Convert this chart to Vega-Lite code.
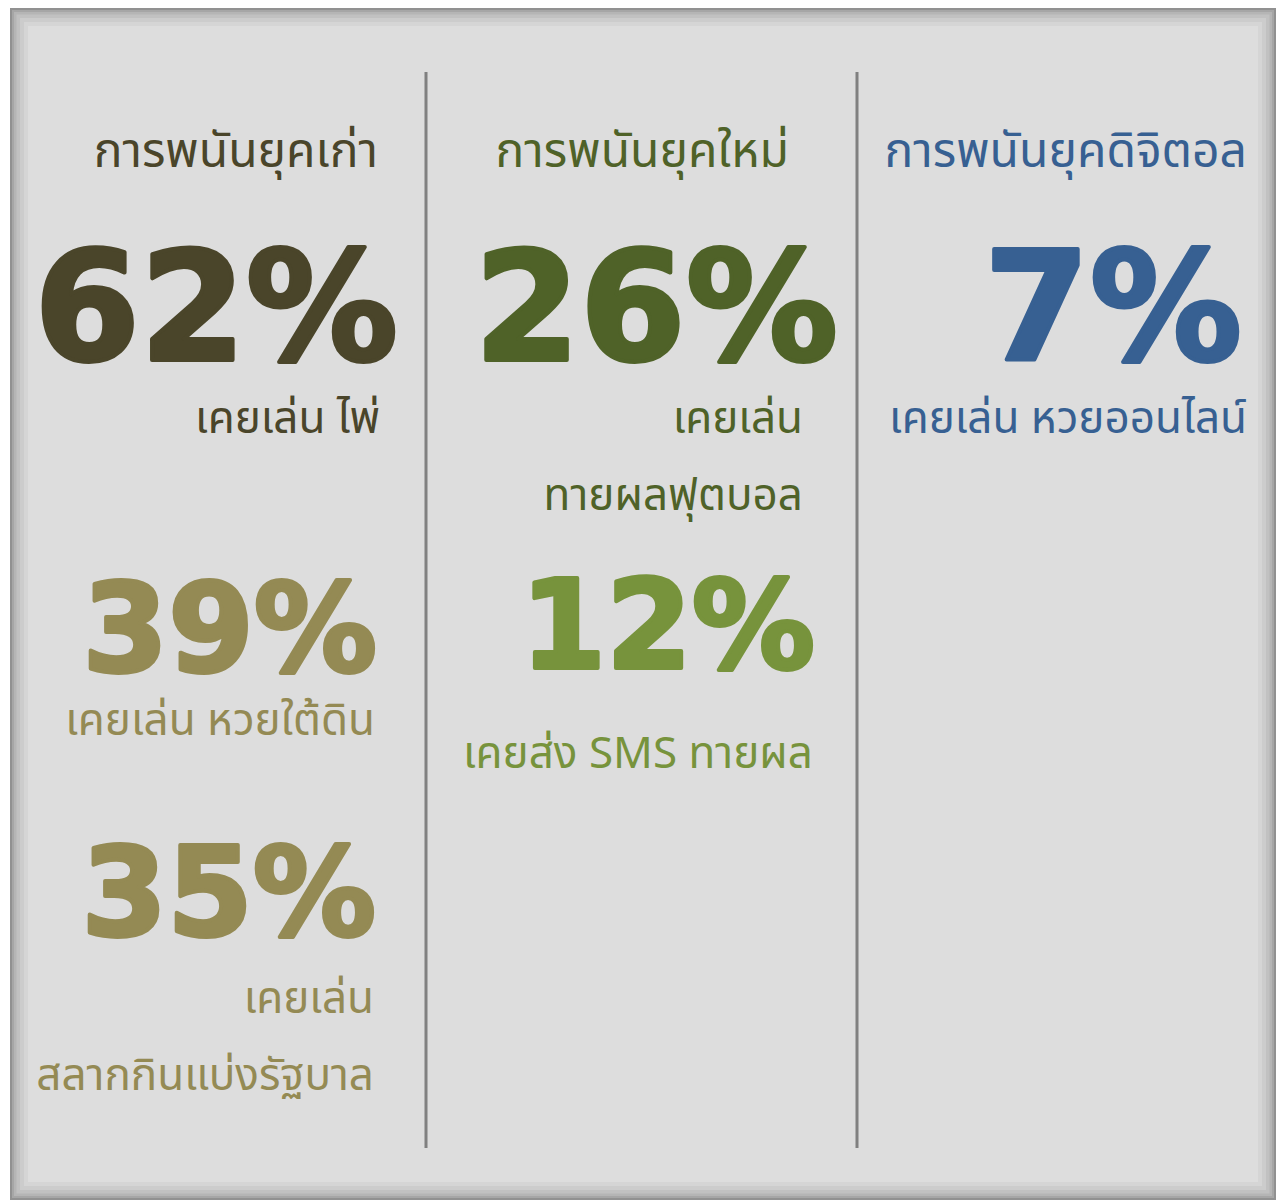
{
  "$schema": "https://vega.github.io/schema/vega-lite/v6.json",
  "width": 1266,
  "height": 1192,
  "autosize": {"type": "none"},
  "padding": {"left": 10, "top": 8, "right": 0, "bottom": 0},
  "background": "white",
  "config": {"view": {"fill": "#dddddd", "stroke": null}},
  "datasets": {
    "texts": [
      {"t": "การพนันยุคเก่า", "x": 378, "y": 167, "tone": "old", "kind": "head"},
      {"t": "62%", "x": 398, "y": 362, "tone": "old", "kind": "big"},
      {"t": "เคยเล่น ไพ่", "x": 380, "y": 433, "tone": "old", "kind": "label"},
      {"t": "39%", "x": 377, "y": 673, "tone": "oldSub", "kind": "mid"},
      {"t": "เคยเล่น หวยใต้ดิน", "x": 375, "y": 735, "tone": "oldSub", "kind": "label"},
      {"t": "35%", "x": 376, "y": 937, "tone": "oldSub", "kind": "mid"},
      {"t": "เคยเล่น", "x": 374, "y": 1013, "tone": "oldSub", "kind": "label"},
      {"t": "สลากกินแบ่งรัฐบาล", "x": 374, "y": 1090, "tone": "oldSub", "kind": "label"},
      {"t": "การพนันยุคใหม่", "x": 789, "y": 167, "tone": "new", "kind": "head"},
      {"t": "26%", "x": 838, "y": 362, "tone": "new", "kind": "big"},
      {"t": "เคยเล่น", "x": 803, "y": 433, "tone": "new", "kind": "label"},
      {"t": "ทายผลฟุตบอล", "x": 803, "y": 510, "tone": "new", "kind": "label"},
      {"t": "12%", "x": 815, "y": 670, "tone": "newSub", "kind": "mid"},
      {"t": "เคยส่ง SMS ทายผล", "x": 813, "y": 768, "tone": "newSub", "kind": "label"},
      {"t": "การพนันยุคดิจิตอล", "x": 1247, "y": 167, "tone": "digital", "kind": "head"},
      {"t": "7%", "x": 1242, "y": 362, "tone": "digital", "kind": "big"},
      {"t": "เคยเล่น หวยออนไลน์", "x": 1247, "y": 433, "tone": "digital", "kind": "label"}
    ],
    "dividers": [
      {"x": 426, "y": 72, "y2": 1148},
      {"x": 857, "y": 72, "y2": 1148}
    ]
  },
  "layer": [
    {
      "data": {"values": [{}]},
      "mark": {"type": "rect", "fill": "transparent", "stroke": "black", "strokeWidth": 36, "strokeOpacity": 0.035, "clip": true},
      "encoding": {
        "x": {"datum": 10, "type": "quantitative", "scale": {"domain": [10, 1276], "nice": false, "zero": false}, "axis": null},
        "x2": {"datum": 1276},
        "y": {"datum": 8, "type": "quantitative", "scale": {"domain": [8, 1200], "nice": false, "zero": false, "reverse": true}, "axis": null},
        "y2": {"datum": 1200}
      }
    },
    {
      "data": {"values": [{}]},
      "mark": {"type": "rect", "fill": "transparent", "stroke": "black", "strokeWidth": 28, "strokeOpacity": 0.04, "clip": true},
      "encoding": {"x": {"datum": 10, "type": "quantitative"}, "x2": {"datum": 1276}, "y": {"datum": 8, "type": "quantitative"}, "y2": {"datum": 1200}}
    },
    {
      "data": {"values": [{}]},
      "mark": {"type": "rect", "fill": "transparent", "stroke": "black", "strokeWidth": 20, "strokeOpacity": 0.05, "clip": true},
      "encoding": {"x": {"datum": 10, "type": "quantitative"}, "x2": {"datum": 1276}, "y": {"datum": 8, "type": "quantitative"}, "y2": {"datum": 1200}}
    },
    {
      "data": {"values": [{}]},
      "mark": {"type": "rect", "fill": "transparent", "stroke": "black", "strokeWidth": 13, "strokeOpacity": 0.06, "clip": true},
      "encoding": {"x": {"datum": 10, "type": "quantitative"}, "x2": {"datum": 1276}, "y": {"datum": 8, "type": "quantitative"}, "y2": {"datum": 1200}}
    },
    {
      "data": {"values": [{}]},
      "mark": {"type": "rect", "fill": "transparent", "stroke": "black", "strokeWidth": 8, "strokeOpacity": 0.08, "clip": true},
      "encoding": {"x": {"datum": 10, "type": "quantitative"}, "x2": {"datum": 1276}, "y": {"datum": 8, "type": "quantitative"}, "y2": {"datum": 1200}}
    },
    {
      "data": {"values": [{}]},
      "mark": {"type": "rect", "fill": "transparent", "stroke": "black", "strokeWidth": 4, "strokeOpacity": 0.12, "clip": true},
      "encoding": {"x": {"datum": 10, "type": "quantitative"}, "x2": {"datum": 1276}, "y": {"datum": 8, "type": "quantitative"}, "y2": {"datum": 1200}}
    },
    {
      "data": {"name": "dividers"},
      "mark": {"type": "rule", "color": "#808080", "strokeWidth": 3},
      "encoding": {
        "x": {"field": "x", "type": "quantitative"},
        "y": {"field": "y", "type": "quantitative"},
        "y2": {"field": "y2"}
      }
    },
    {
      "data": {"name": "texts"},
      "transform": [{"filter": "datum.kind === 'head'"}],
      "mark": {"type": "text", "align": "right", "baseline": "alphabetic", "fontSize": 48, "font": "Noto Sans Thai, Noto Sans, sans-serif"},
      "encoding": {
        "x": {"field": "x", "type": "quantitative"},
        "y": {"field": "y", "type": "quantitative"},
        "text": {"field": "t"},
        "color": {"field": "tone", "type": "nominal", "legend": null,
          "scale": {"domain": ["old", "oldSub", "new", "newSub", "digital"], "range": ["#4a452a", "#948a54", "#4f6228", "#77933c", "#376092"]}}
      }
    },
    {
      "data": {"name": "texts"},
      "transform": [{"filter": "datum.kind === 'label'"}],
      "mark": {"type": "text", "align": "right", "baseline": "alphabetic", "fontSize": 44, "font": "Noto Sans Thai, Noto Sans, sans-serif"},
      "encoding": {
        "x": {"field": "x", "type": "quantitative"},
        "y": {"field": "y", "type": "quantitative"},
        "text": {"field": "t"},
        "color": {"field": "tone", "type": "nominal", "legend": null}
      }
    },
    {
      "data": {"name": "texts"},
      "transform": [{"filter": "datum.kind === 'big'"}],
      "mark": {"type": "text", "align": "right", "baseline": "alphabetic", "dy": -2, "fontSize": 152, "font": "DejaVu Sans", "fontWeight": "bold", "strokeWidth": 4, "strokeJoin": "round"},
      "encoding": {
        "x": {"field": "x", "type": "quantitative"},
        "y": {"field": "y", "type": "quantitative"},
        "text": {"field": "t"},
        "color": {"field": "tone", "type": "nominal", "legend": null},
        "stroke": {"field": "tone", "type": "nominal", "legend": null,
          "scale": {"domain": ["old", "oldSub", "new", "newSub", "digital"], "range": ["#4a452a", "#948a54", "#4f6228", "#77933c", "#376092"]}}
      }
    },
    {
      "data": {"name": "texts"},
      "transform": [{"filter": "datum.kind === 'mid'"}],
      "mark": {"type": "text", "align": "right", "baseline": "alphabetic", "dy": -2, "fontSize": 123, "font": "DejaVu Sans", "fontWeight": "bold", "strokeWidth": 4, "strokeJoin": "round"},
      "encoding": {
        "x": {"field": "x", "type": "quantitative"},
        "y": {"field": "y", "type": "quantitative"},
        "text": {"field": "t"},
        "color": {"field": "tone", "type": "nominal", "legend": null},
        "stroke": {"field": "tone", "type": "nominal", "legend": null}
      }
    }
  ]
}
